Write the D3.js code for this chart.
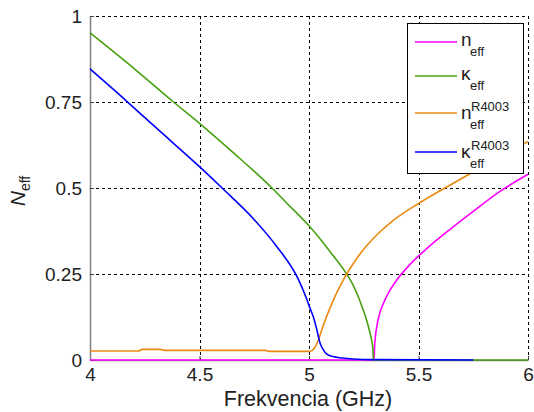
<!DOCTYPE html>
<html><head><meta charset="utf-8">
<script src="https://cdn.jsdelivr.net/npm/d3@7"></script>
<style>body{margin:0;background:#fff}svg{display:block}text{font-family:"Liberation Sans",Arial,sans-serif}</style>
</head><body>
<script>
// ---- data ----
const xTicks = [4, 4.5, 5, 5.5, 6];
const xTickLabels = ["4", "4.5", "5", "5.5", "6"];
const yTicks = [0, 0.25, 0.5, 0.75, 1];
const yTickLabels = ["0", "0.25", "0.5", "0.75", "1"];

const nEffX = [4, 5.297, 5.300, 5.309, 5.325, 5.347, 5.37, 5.4, 5.45, 5.5, 5.57, 5.644, 5.75, 5.872, 6.0];
const nEffY = [0, 0, 0.045, 0.095, 0.14, 0.175, 0.203, 0.232, 0.27, 0.302, 0.342, 0.38, 0.432, 0.49, 0.54];

const kEffX = [4, 4.2, 4.381, 4.5, 4.65, 4.831, 4.9, 5.0, 5.1, 5.172, 5.2, 5.225, 5.245, 5.263, 5.278, 5.286, 5.292, 5.294, 6];
const kEffY = [0.951, 0.848, 0.75, 0.688, 0.605, 0.5, 0.455, 0.39, 0.312, 0.25, 0.22, 0.184, 0.15, 0.116, 0.08, 0.058, 0.03, 0, 0];

const nRX = [4, 4.22, 4.24, 4.32, 4.34, 4.8, 4.82, 5.0, 5.015, 5.027, 5.043, 5.058, 5.08, 5.104, 5.13, 5.157, 5.172, 5.21, 5.263, 5.32, 5.385, 5.5, 5.629, 5.781, 6.0];
const nRY = [0.026, 0.026, 0.031, 0.031, 0.028, 0.028, 0.025, 0.025, 0.028, 0.037, 0.058, 0.087, 0.126, 0.163, 0.2, 0.233, 0.25, 0.288, 0.332, 0.37, 0.406, 0.455, 0.503, 0.558, 0.635];

const kRX = [4, 4.168, 4.3, 4.5, 4.603, 4.747, 4.85, 4.951, 4.989, 5.005, 5.02, 5.035, 5.05, 5.065, 5.08, 5.11, 5.15, 5.2, 5.3, 5.75];
const kRY = [0.846, 0.752, 0.676, 0.562, 0.5, 0.41, 0.332, 0.235, 0.178, 0.15, 0.125, 0.09, 0.05, 0.03, 0.018, 0.01, 0.006, 0.003, 0.001, 0];

const series = [
  {name: "n", sup: "", xs: nEffX, ys: nEffY, color: "#ff00ff"},
  {name: "κ", sup: "", xs: kEffX, ys: kEffY, color: "#48a010"},
  {name: "n", sup: "R4003", xs: nRX, ys: nRY, color: "#ea8a10"},
  {name: "κ", sup: "R4003", xs: kRX, ys: kRY, color: "#0000ff"}
];

// ---- layout ----
const W = 534, H = 412;
const L = 90, R = 528, T = 16, B = 360;
const x = d3.scaleLinear().domain([4, 6]).range([L, R]);
const y = d3.scaleLinear().domain([0, 1]).range([B, T]);

const svg = d3.select("body").append("svg").attr("width", W).attr("height", H);

// grid
const grid = svg.append("g").attr("stroke", "#000").attr("stroke-width", 1).attr("stroke-dasharray", "3,3").attr("shape-rendering", "crispEdges");
xTicks.filter(t => t > 4).forEach(t => {
  grid.append("line").attr("x1", Math.round(x(t)) + 0.5).attr("x2", Math.round(x(t)) + 0.5).attr("y1", T).attr("y2", B);
});
yTicks.filter(t => t > 0).forEach(t => {
  grid.append("line").attr("x1", L).attr("x2", R).attr("y1", Math.round(y(t)) + 0.5).attr("y2", Math.round(y(t)) + 0.5);
});

// axes
const xAxis = d3.axisBottom(x).tickValues(xTicks).tickFormat((d, i) => xTickLabels[i]).tickSizeInner(-4).tickSizeOuter(0);
const yAxis = d3.axisLeft(y).tickValues(yTicks).tickFormat((d, i) => yTickLabels[i]).tickSizeInner(-4).tickSizeOuter(0).tickPadding(8);
const gx = svg.append("g").attr("transform", `translate(0,${B})`).call(xAxis);
const gy = svg.append("g").attr("transform", `translate(${L},0)`).call(yAxis);
[gx, gy].forEach(g => {
  g.select(".domain").attr("stroke", "#808080").attr("stroke-width", 1.5);
  g.selectAll(".tick line").attr("stroke", "#404040");
  g.selectAll(".tick text").attr("font-size", 19).attr("fill", "#222");
});
gx.selectAll(".tick text").attr("y", 21).attr("dy", 0);
gy.selectAll(".tick text").attr("dy", "0.35em");

// lines
const line = d3.line().x(d => x(d[0])).y(d => y(d[1])).curve(d3.curveMonotoneX);
series.forEach(s => {
  svg.append("path").datum(s.xs.map((v, i) => [v, s.ys[i]]))
    .attr("d", line).attr("fill", "none").attr("stroke", s.color).attr("stroke-width", 1.6).attr("stroke-linejoin", "round");
});

// axis labels
svg.append("text").attr("x", 308).attr("y", 406).attr("text-anchor", "middle").attr("font-size", 21.5).attr("fill", "#222").text("Frekvencia (GHz)");
const yl = svg.append("text").attr("transform", "translate(25,191) rotate(-90)").attr("text-anchor", "middle").attr("font-size", 21).attr("fill", "#222");
yl.append("tspan").attr("font-style", "italic").text("N");
yl.append("tspan").attr("font-size", 14).attr("dy", 5).text("eff");

// legend
const lg = svg.append("g");
lg.append("rect").attr("x", 407.5).attr("y", 23.5).attr("width", 116).attr("height", 150).attr("fill", "#fff").attr("stroke", "#000").attr("stroke-width", 1);
const ly = [42, 76, 113, 152];
series.forEach((s, i) => {
  const cy = ly[i];
  lg.append("line").attr("x1", 415).attr("x2", 457).attr("y1", cy).attr("y2", cy).attr("stroke", s.color).attr("stroke-width", 1.6);
  const base = s.sup ? cy + 6 : cy + 4;
  lg.append("text").attr("x", 461).attr("y", base).attr("font-size", 19).attr("fill", "#222").text(s.name);
  lg.append("text").attr("x", 470).attr("y", base + 10).attr("font-size", 13).attr("fill", "#222").text("eff");
  if (s.sup) lg.append("text").attr("x", 471).attr("y", base - 8).attr("font-size", 13).attr("fill", "#222").text(s.sup);
});
</script>
</body></html>
